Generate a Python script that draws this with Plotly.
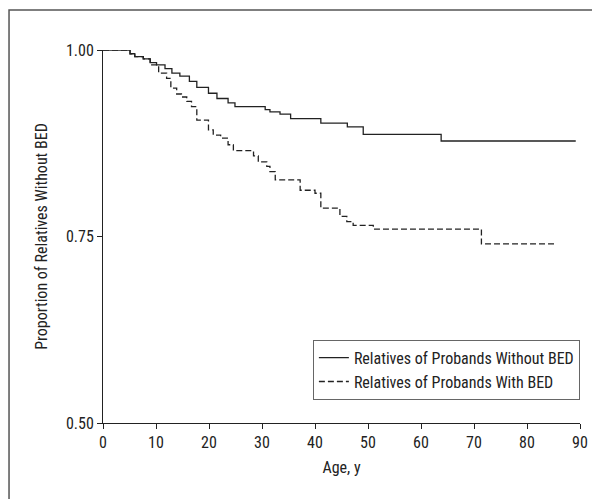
import plotly.graph_objects as go

# Kaplan-Meier style step data
ages_without = [0, 5.1, 6, 7.6, 8.9, 10.1, 11.7, 13, 14.5, 16.3, 17.7, 19.9, 21.5, 23.6, 24.9,
                30.6, 31.5, 33.4, 35.4, 41.1, 46.1, 49.1, 63.8, 89.2]
surv_without = [1.0, 0.995, 0.991, 0.988, 0.983, 0.980, 0.975, 0.969, 0.965, 0.958, 0.950, 0.942,
                0.935, 0.929, 0.924, 0.920, 0.917, 0.914, 0.908, 0.902, 0.897, 0.887, 0.878, 0.878]

ages_with = [0, 5.1, 6, 7.6, 8.9, 10.5, 12, 12.8, 13.9, 14.8, 15.8, 16.7, 17.7, 19.9, 20.8, 22.2,
             23.6, 24.6, 28.4, 29.3, 30.9, 31.5, 32.5, 37.2, 40, 41.1, 44.7, 46, 47.2, 51, 71.4, 85.3]
surv_with = [1.0, 0.995, 0.991, 0.988, 0.980, 0.969, 0.962, 0.949, 0.941, 0.937, 0.931, 0.924,
             0.906, 0.893, 0.886, 0.882, 0.873, 0.865, 0.858, 0.850, 0.844, 0.837, 0.826, 0.812,
             0.808, 0.788, 0.777, 0.770, 0.765, 0.760, 0.740, 0.740]

x_ticks = [0, 10, 20, 30, 40, 50, 60, 70, 80, 90]
y_ticks = [0.50, 0.75, 1.00]
y_tick_labels = ["0.50", "0.75", "1.00"]

FONT = "Liberation Sans Narrow, Arial Narrow, Roboto Condensed, Liberation Sans, sans-serif"

fig = go.Figure()
fig.add_trace(go.Scatter(x=ages_without, y=surv_without, mode="lines", line_shape="hv",
                         name="Relatives of Probands Without BED",
                         line=dict(color="#222222", width=1.3)))
fig.add_trace(go.Scatter(x=ages_with, y=surv_with, mode="lines", line_shape="hv",
                         name="Relatives of Probands With BED",
                         line=dict(color="#222222", width=1.3, dash="6px,3px")))

fig.update_layout(
    width=592, height=491,
    margin=dict(l=95, r=20, t=42, b=76, autoexpand=False),
    paper_bgcolor="white", plot_bgcolor="white",
    font=dict(family=FONT, size=16, color="#222222"),
    showlegend=True,
    legend=dict(x=0.44, y=0.223, xanchor="left", yanchor="top",
                bordercolor="#666666", borderwidth=1, bgcolor="white",
                font=dict(family=FONT, size=16, color="#222222"),
                tracegroupgap=0, itemwidth=30),
    xaxis=dict(range=[0, 90], tickvals=x_ticks, ticks="outside", ticklen=5, tickwidth=1,
               tickcolor="#222222", showline=True, linecolor="#222222", linewidth=1,
               showgrid=False, zeroline=False,
               title=dict(text="Age, y", standoff=10, font=dict(size=16))),
    yaxis=dict(range=[0.5, 1.0], tickvals=y_ticks, ticktext=y_tick_labels, ticks="outside",
               ticklen=5, tickwidth=1, tickcolor="#222222", showline=True,
               linecolor="#222222", linewidth=1, showgrid=False, zeroline=False,
               title=dict(text="Proportion of Relatives Without BED", standoff=14,
                          font=dict(size=16))),
    shapes=[dict(type="rect", xref="paper", yref="paper",
                 x0=-0.197, x1=1.2, y0=-0.4, y1=1.107,
                 line=dict(color="#555555", width=1.5), layer="below")],
)

fig.write_html("out.html")
